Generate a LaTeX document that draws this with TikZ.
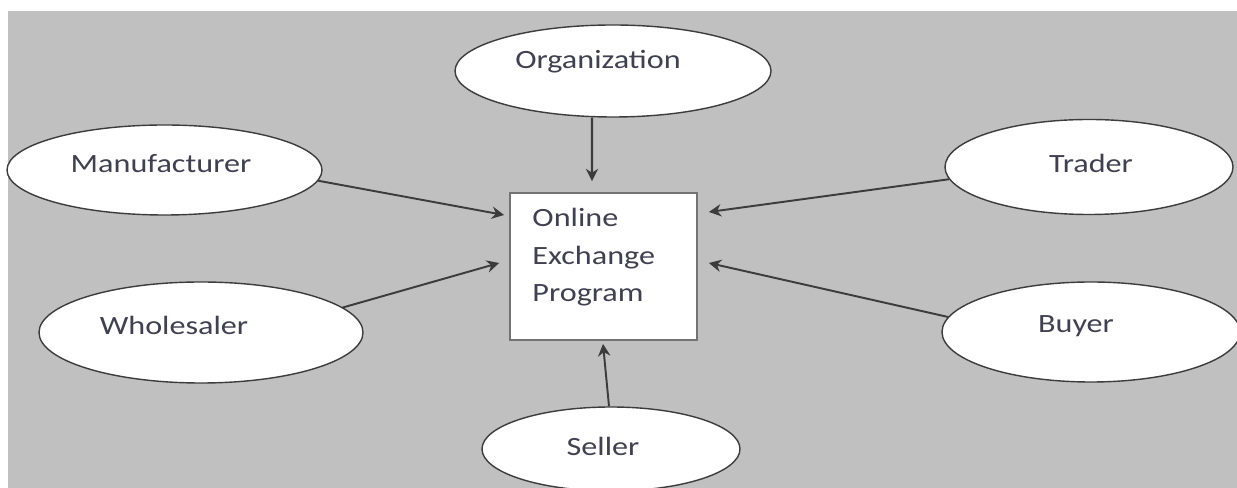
\documentclass[tikz,border=0pt]{standalone}
\usepackage{fontspec}
\setmainfont{Carlito}[FakeStretch=1.22]
\usetikzlibrary{shapes.geometric,arrows.meta}
\definecolor{bggray}{HTML}{C0C0C0}
\definecolor{inkgray}{HTML}{3C3C3C}
\definecolor{txtgray}{HTML}{404050}

\begin{document}
\begin{tikzpicture}[
  blob/.style={ellipse,draw=inkgray,fill=white,line width=0.8pt,inner sep=0pt},
  lbl/.style={inner sep=0pt,text=txtgray,font=\fontsize{15}{21.4}\selectfont},
  link/.style={draw=inkgray,line width=1.1pt,-{Stealth[length=7pt,width=7pt]}}
]
  \useasboundingbox (0,0) rectangle (24.74,9.76);
  \fill[bggray] (0.16,0) rectangle (24.74,9.54);

  % the program in the middle
  \node[draw=black!55,fill=white,line width=1pt,minimum width=3.74cm,minimum height=2.94cm,inner sep=0pt,
    label={[lbl,align=left,anchor=north west,xshift=0.46cm,yshift=-0.32cm]north west:Online\\Exchange\\Program}] (prog) at (12.07,4.43) {};

  % the parties round it
  \node[blob,minimum width=6.32cm,minimum height=1.84cm,
    label={[lbl,anchor=base,xshift=-0.3cm,yshift=0.18cm]center:Organization}] (org) at (12.26,8.34) {};
  \node[blob,minimum width=6.3cm,minimum height=1.8cm,
    label={[lbl,anchor=base,xshift=-0.07cm,yshift=0.12cm]center:Manufacturer}] (manu) at (3.29,6.36) {};
  \node[blob,minimum width=6.48cm,minimum height=2.02cm,
    label={[lbl,anchor=base,xshift=-0.54cm,yshift=0.15cm]center:Wholesaler}] (whol) at (4.02,3.11) {};
  \node[blob,minimum width=5.76cm,minimum height=1.9cm,
    label={[lbl,anchor=base,xshift=0.04cm,yshift=0.07cm]center:Trader}] (trad) at (21.78,6.42) {};
  \node[blob,minimum width=5.96cm,minimum height=2cm,
    label={[lbl,anchor=base,xshift=-0.3cm,yshift=0.12cm]center:Buyer}] (buyer) at (21.82,3.12) {};
  \node[blob,minimum width=5.16cm,minimum height=1.68cm,
    label={[lbl,anchor=base,xshift=-0.16cm,yshift=0.06cm]center:Seller}] (seller) at (12.22,0.78) {};

  % arrows into the program
  \draw[link,line width=1.4pt] ([xshift=-0.42cm]org.south) -- ([xshift=-0.23cm,yshift=0.22cm]prog.north);
  \draw[link] (manu.-4) -- ([xshift=-0.1cm,yshift=1.03cm]prog.west);
  \draw[link] (whol.10) -- ([xshift=-0.2cm,yshift=0.07cm]prog.west);
  \draw[link] (trad.185) -- ([xshift=0.22cm,yshift=1.09cm]prog.east);
  \draw[link] (buyer.174) -- ([xshift=0.22cm,yshift=0.07cm]prog.east);
  \draw[link] ([xshift=-0.04cm]seller.north) -- ([xshift=-0.01cm,yshift=-0.06cm]prog.south);
\end{tikzpicture}
\end{document}
